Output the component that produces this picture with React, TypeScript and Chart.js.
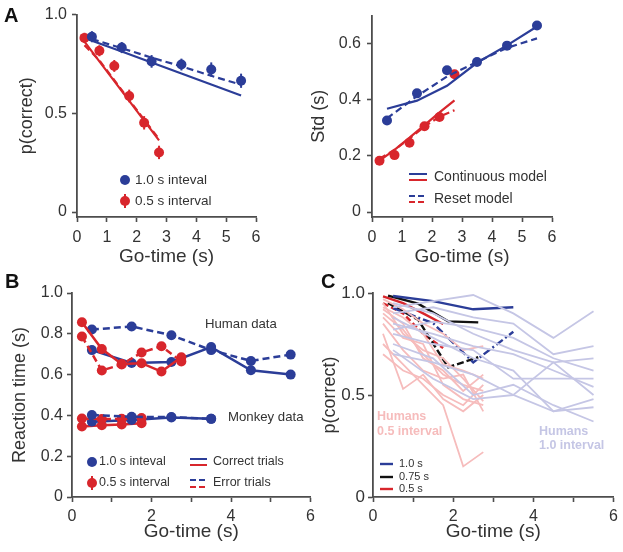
import React, { useEffect, useRef } from "react";
import { Chart, registerables } from "chart.js";
Chart.register(...registerables);

const BLUE = "#2b3d98";
const RED = "#d8262c";
const BLACK = "#111111";
const PINK = "#f6bcbc";
const LAV = "#c5c6e5";
const AXIS = "#4d4d4d";
const TXT = "#333333";
const FONT = "'Liberation Sans', Arial, Helvetica, sans-serif";

// ---------- Panel A (left): p(correct) ----------
const xLong = [0.5, 1.5, 2.5, 3.5, 4.5, 5.5];
const xShort = [0.25, 0.75, 1.25, 1.75, 2.25, 2.75];
const aBlueP = [0.888, 0.833, 0.763, 0.747, 0.722, 0.665];
const aRedP = [0.882, 0.817, 0.74, 0.588, 0.452, 0.302];
const aBlueErr = [0.028, 0.028, 0.032, 0.03, 0.036, 0.036];
const aRedErr = [0.026, 0.028, 0.03, 0.032, 0.034, 0.034];
const aBlueCont = [0.868, 0.813, 0.757, 0.702, 0.646, 0.59];
const aBlueReset = [0.876, 0.83, 0.782, 0.738, 0.69, 0.645];
const aRedCont = [0.863, 0.763, 0.663, 0.563, 0.463, 0.363];
const aRedReset = [0.845, 0.768, 0.668, 0.568, 0.468, 0.37];

// ---------- Panel A (right): Std ----------
const sBlue = [0.326, 0.423, 0.505, 0.535, 0.593, 0.665];
const sRed = [0.183, 0.203, 0.247, 0.306, 0.339, 0.491];
const sBlueCont = [0.368, 0.397, 0.45, 0.532, 0.594, 0.661];
const sBlueReset = [0.334, 0.413, 0.483, 0.535, 0.585, 0.619];
const sRedCont = [0.183, 0.222, 0.265, 0.31, 0.355, 0.398];
const sRedReset = [0.19, 0.222, 0.262, 0.305, 0.34, 0.363];

// ---------- Panel B: reaction time ----------
const hBlueCorrect = [0.72, 0.657, 0.662, 0.735, 0.621, 0.6];
const hBlueError = [0.821, 0.836, 0.793, 0.72, 0.667, 0.698];
const hRedCorrect = [0.857, 0.725, 0.652, 0.656, 0.615, 0.685];
const hRedError = [0.787, 0.62, 0.65, 0.708, 0.739, 0.664];
const xMonkeyLong = [0.5, 1.5, 2.5, 3.5];
const xMonkeyShort = [0.25, 0.75, 1.25, 1.75];
const mBlueCorrect = [0.369, 0.378, 0.39, 0.383];
const mBlueError = [0.402, 0.393, 0.392, 0.383];
const mRedCorrect = [0.346, 0.352, 0.355, 0.362];
const mRedError = [0.385, 0.382, 0.383, 0.387];

// ---------- Panel C: individual subjects + monkeys ----------
const hum10_1 = [0.93, 0.96, 0.99, 0.9, 0.78, 0.91];
const hum10_2 = [0.9, 0.93, 0.88, 0.85, 0.7, 0.74];
const hum10_3 = [0.82, 0.86, 0.83, 0.78, 0.68, 0.62];
const hum10_4 = [0.95, 0.9, 0.8, 0.72, 0.66, 0.68];
const hum10_5 = [0.8, 0.75, 0.72, 0.58, 0.58, 0.58];
const hum10_6 = [0.7, 0.66, 0.6, 0.5, 0.66, 0.5];
const hum10_7 = [0.88, 0.78, 0.68, 0.62, 0.42, 0.44];
const hum10_8 = [0.75, 0.68, 0.5, 0.55, 0.45, 0.37];
const hum10_9 = [0.85, 0.8, 0.74, 0.7, 0.62, 0.54];
const hum10_10 = [0.72, 0.58, 0.48, 0.5, 0.42, 0.48];
const hum05_1 = [0.97, 0.92, 0.85, 0.8, 0.72, 0.74];
const hum05_2 = [0.93, 0.88, 0.8, 0.65, 0.62, 0.58];
const hum05_3 = [0.9, 0.82, 0.7, 0.6, 0.55, 0.52];
const hum05_4 = [0.88, 0.78, 0.75, 0.55, 0.48, 0.45];
const hum05_5 = [0.85, 0.72, 0.62, 0.58, 0.6, 0.42];
const hum05_6 = [0.75, 0.65, 0.55, 0.45, 0.15, 0.22];
const hum05_7 = [0.7, 0.62, 0.58, 0.5, 0.45, 0.55];
const hum05_8 = [0.8, 0.53, 0.6, 0.48, 0.42, 0.5];
const hum05_9 = [0.92, 0.85, 0.68, 0.62, 0.52, 0.6];
const hum05_10 = [0.95, 0.8, 0.72, 0.68, 0.58, 0.47];
const humans10 = [hum10_1, hum10_2, hum10_3, hum10_4, hum10_5, hum10_6, hum10_7, hum10_8, hum10_9, hum10_10];
const humans05 = [hum05_1, hum05_2, hum05_3, hum05_4, hum05_5, hum05_6, hum05_7, hum05_8, hum05_9, hum05_10];

const xM10 = [0.5, 1.5, 2.5, 3.5];
const xM075 = [0.375, 1.125, 1.875, 2.625];
const xM05 = [0.25, 0.75, 1.25, 1.75];
const m10Correct = [0.985, 0.96, 0.92, 0.93];
const m10Error = [0.926, 0.852, 0.66, 0.81];
const m075Correct = [0.987, 0.948, 0.861, 0.856];
const m075Error = [0.951, 0.869, 0.636, 0.685];
const m05Correct = [0.984, 0.95, 0.9, 0.848];
const m05Error = [0.95, 0.9, 0.8, 0.73];

const xTicks = [0, 1, 2, 3, 4, 5, 6];
const yTicksA = [0, 0.5, 1];
const yTicksStd = [0, 0.2, 0.4, 0.6];
const yTicksRT = [0, 0.2, 0.4, 0.6, 0.8, 1.0];

// ---------- helpers ----------
const xy = (xs: number[], ys: number[]) => xs.map((x, i) => ({ x, y: ys[i] }));

function pts(xs: number[], ys: number[], color: string, r = 5) {
  return {
    data: xy(xs, ys), showLine: false, pointRadius: r, pointHoverRadius: r,
    pointBackgroundColor: color, pointBorderColor: color, pointBorderWidth: 0,
    borderColor: color, backgroundColor: color, clip: false,
  };
}
function ln(xs: number[], ys: number[], color: string, dash: number[] = [], w = 2.2) {
  return {
    data: xy(xs, ys), showLine: true, pointRadius: 0, pointHoverRadius: 0,
    borderColor: color, backgroundColor: color, borderWidth: w, borderDash: dash,
    fill: false, tension: 0, clip: false,
  };
}
function lnPts(xs: number[], ys: number[], color: string, dash: number[] = [], w = 2.5, r = 5) {
  return {
    data: xy(xs, ys), showLine: true, pointRadius: r, pointHoverRadius: r,
    pointBackgroundColor: color, pointBorderColor: color, pointBorderWidth: 0,
    borderColor: color, backgroundColor: color, borderWidth: w, borderDash: dash,
    fill: false, tension: 0, clip: false,
  };
}

function yFmt(v: number) {
  return v === 0 ? "0" : v.toFixed(1);
}

function xScale(opts: { height: number; labelEven?: boolean; titlePad: number; tickPad: number }) {
  return {
    type: "linear", min: 0, max: 6,
    afterBuildTicks: (s: any) => { s.ticks = xTicks.map((v) => ({ value: v })); },
    afterFit: (s: any) => { s.height = opts.height; },
    ticks: {
      color: TXT, font: { family: FONT, size: 16 }, padding: opts.tickPad, maxRotation: 0, autoSkip: false,
      callback: (v: any) => (opts.labelEven ? (v % 2 === 0 ? String(v) : "") : String(v)),
    },
    grid: { display: true, drawOnChartArea: false, drawTicks: true, tickLength: 5, tickWidth: 1.6, tickColor: AXIS, color: AXIS },
    border: { display: true, color: AXIS, width: 1.8 },
    title: { display: true, text: "Go-time (s)", color: TXT, font: { family: FONT, size: 19 }, padding: { top: 0, bottom: opts.titlePad } },
  };
}
function yScale(opts: { width: number; min: number; max: number; ticks: number[]; title: string; titlePad: number; tickPad: number; size?: number }) {
  return {
    type: "linear", min: opts.min, max: opts.max,
    afterBuildTicks: (s: any) => { s.ticks = opts.ticks.map((v) => ({ value: v })); },
    afterFit: (s: any) => { s.width = opts.width; },
    ticks: { color: TXT, font: { family: FONT, size: opts.size || 16 }, padding: opts.tickPad, autoSkip: false, callback: (v: any) => yFmt(v) },
    grid: { display: true, drawOnChartArea: false, drawTicks: true, tickLength: 5, tickWidth: 1.6, tickColor: AXIS, color: AXIS },
    border: { display: true, color: AXIS, width: 1.8 },
    title: { display: true, text: opts.title, color: TXT, font: { family: FONT, size: 18 }, padding: { top: opts.titlePad, bottom: 0 } },
  };
}

function baseOptions(pad: { top: number; right: number }, scales: any) {
  return {
    responsive: false, animation: false, events: [],
    layout: { padding: { top: pad.top, right: pad.right, left: 0, bottom: 0 } },
    plugins: { legend: { display: false }, tooltip: { enabled: false }, title: { display: false } },
    scales,
  };
}

function text(ctx: CanvasRenderingContext2D, s: string, x: number, y: number, size: number, color = TXT, align: CanvasTextAlign = "left", weight = "normal") {
  ctx.save();
  ctx.font = `${weight} ${size}px ${FONT}`;
  ctx.fillStyle = color;
  ctx.textAlign = align;
  ctx.textBaseline = "middle";
  ctx.fillText(s, x, y);
  ctx.restore();
}
function seg(ctx: CanvasRenderingContext2D, x1: number, y1: number, x2: number, y2: number, color: string, w = 2, dash: number[] = []) {
  ctx.save();
  ctx.strokeStyle = color;
  ctx.lineWidth = w;
  ctx.setLineDash(dash);
  ctx.beginPath();
  ctx.moveTo(x1, y1);
  ctx.lineTo(x2, y2);
  ctx.stroke();
  ctx.restore();
}
function dot(ctx: CanvasRenderingContext2D, x: number, y: number, r: number, color: string) {
  ctx.save();
  ctx.fillStyle = color;
  ctx.beginPath();
  ctx.arc(x, y, r, 0, Math.PI * 2);
  ctx.fill();
  ctx.restore();
}
function panelLabel(ctx: CanvasRenderingContext2D, s: string, x: number, y: number) {
  ctx.save();
  ctx.font = `bold 20px ${FONT}`;
  ctx.fillStyle = "#111";
  ctx.textAlign = "left";
  ctx.textBaseline = "alphabetic";
  ctx.fillText(s, x, y);
  ctx.restore();
}

function errorBars(chart: any, xs: number[], ys: number[], errs: number[], color: string) {
  const ctx = chart.ctx;
  const sx = chart.scales.x, sy = chart.scales.y;
  xs.forEach((x, i) => {
    const px = sx.getPixelForValue(x);
    seg(ctx, px, sy.getPixelForValue(ys[i] - errs[i]), px, sy.getPixelForValue(ys[i] + errs[i]), color, 2);
  });
}

// ---------- configs ----------
const configA = {
  type: "line",
  data: {
    datasets: [
      ln(xLong, aBlueCont, BLUE),
      ln(xLong, aBlueReset, BLUE, [7, 4]),
      ln(xShort, aRedCont, RED),
      ln(xShort, aRedReset, RED, [7, 4]),
      pts(xLong, aBlueP, BLUE),
      pts(xShort, aRedP, RED),
    ],
  },
  options: baseOptions({ top: 12, right: 44 }, {
    x: xScale({ height: 53, titlePad: 2, tickPad: 6 }),
    y: yScale({ width: 77, min: -0.025, max: 1.0, ticks: yTicksA, title: "p(correct)", titlePad: 16, tickPad: 5 }),
  }),
  plugins: [{
    id: "extraA",
    afterDatasetsDraw(chart: any) {
      errorBars(chart, xLong, aBlueP, aBlueErr, BLUE);
      errorBars(chart, xShort, aRedP, aRedErr, RED);
    },
    afterDraw(chart: any) {
      const ctx = chart.ctx;
      panelLabel(ctx, "A", 4, 22);
      dot(ctx, 125, 180, 5, BLUE);
      text(ctx, "1.0 s inteval", 135, 180, 13.5);
      seg(ctx, 125, 194, 125, 208, RED, 2);
      dot(ctx, 125, 201, 5, RED);
      text(ctx, "0.5 s interval", 135, 201, 13.5);
    },
  }],
};

const configStd = {
  type: "line",
  data: {
    datasets: [
      ln(xLong, sBlueCont, BLUE),
      ln(xLong, sBlueReset, BLUE, [7, 4]),
      ln(xShort, sRedCont, RED),
      ln(xShort, sRedReset, RED, [7, 4]),
      pts(xLong, sBlue, BLUE),
      pts(xShort, sRed, RED),
    ],
  },
  options: baseOptions({ top: 12, right: 71 }, {
    x: xScale({ height: 53, titlePad: 2, tickPad: 6 }),
    y: yScale({ width: 72, min: -0.0175, max: 0.7, ticks: yTicksStd, title: "Std (s)", titlePad: 8, tickPad: 6 }),
  }),
  plugins: [{
    id: "extraStd",
    afterDraw(chart: any) {
      const ctx = chart.ctx;
      seg(ctx, 109, 174, 127, 174, BLUE, 2);
      seg(ctx, 109, 180, 127, 180, RED, 2);
      text(ctx, "Continuous model", 134, 177, 14);
      seg(ctx, 109, 196, 127, 196, BLUE, 2, [6, 3]);
      seg(ctx, 109, 202, 127, 202, RED, 2, [6, 3]);
      text(ctx, "Reset model", 134, 199, 14);
    },
  }],
};

const configB = {
  type: "line",
  data: {
    datasets: [
      lnPts(xMonkeyLong, mBlueError, BLUE, [7, 4]),
      lnPts(xMonkeyShort, mRedError, RED, [7, 4]),
      lnPts(xMonkeyLong, mBlueCorrect, BLUE),
      lnPts(xMonkeyShort, mRedCorrect, RED),
      lnPts(xShort, hRedError, RED, [7, 4]),
      lnPts(xShort, hRedCorrect, RED),
      lnPts(xLong, hBlueError, BLUE, [7, 4]),
      lnPts(xLong, hBlueCorrect, BLUE),
    ],
  },
  options: baseOptions({ top: 23, right: 8 }, {
    x: xScale({ height: 55, labelEven: true, titlePad: 9, tickPad: 5 }),
    y: yScale({ width: 72, min: 0, max: 1, ticks: yTicksRT, title: "Reaction time (s)", titlePad: 9, tickPad: 4 }),
  }),
  plugins: [{
    id: "extraB",
    afterDraw(chart: any) {
      const ctx = chart.ctx;
      panelLabel(ctx, "B", 5, 18);
      text(ctx, "Human data", 205, 54, 13.2);
      text(ctx, "Monkey data", 228, 147, 13.2);
      dot(ctx, 92, 192, 5, BLUE);
      text(ctx, "1.0 s inteval", 99, 192, 12.5);
      seg(ctx, 92, 206, 92, 220, RED, 2);
      dot(ctx, 92, 213, 5, RED);
      text(ctx, "0.5 s interval", 99, 213, 12.5);
      seg(ctx, 190, 189, 207, 189, BLUE, 2);
      seg(ctx, 190, 195, 207, 195, RED, 2);
      text(ctx, "Correct trials", 213, 192, 12.5);
      seg(ctx, 190, 210, 207, 210, BLUE, 2, [6, 3]);
      seg(ctx, 190, 217, 207, 217, RED, 2, [6, 3]);
      text(ctx, "Error trials", 213, 213, 12.5);
    },
  }],
};

const configC = {
  type: "line",
  data: {
    datasets: [
      ...humans10.map((ys) => ln(xLong, ys, LAV, [], 1.8)),
      ...humans05.map((ys) => ln(xShort, ys, PINK, [], 1.8)),
      ln(xM10, m10Error, BLUE, [8, 3, 2, 3], 2.4),
      ln(xM075, m075Error, BLACK, [7, 3], 2.4),
      ln(xM05, m05Error, RED, [6, 3], 2.4),
      ln(xM10, m10Correct, BLUE, [], 2.4),
      ln(xM075, m075Correct, BLACK, [], 2.4),
      ln(xM05, m05Correct, RED, [], 2.4),
    ],
  },
  options: baseOptions({ top: 23, right: 9 }, {
    x: xScale({ height: 55, labelEven: true, titlePad: 9, tickPad: 5 }),
    y: yScale({ width: 63, min: 0, max: 1, ticks: yTicksA, title: "p(correct)", titlePad: 9, tickPad: 3, size: 17 }),
  }),
  plugins: [{
    id: "extraC",
    afterDraw(chart: any) {
      const ctx = chart.ctx;
      panelLabel(ctx, "C", 11, 18);
      text(ctx, "Humans", 67, 147, 12.5, PINK, "left", "bold");
      text(ctx, "0.5 interval", 67, 162, 12.5, PINK, "left", "bold");
      text(ctx, "Humans", 229, 162, 12.5, LAV, "left", "bold");
      text(ctx, "1.0 interval", 229, 176, 12.5, LAV, "left", "bold");
      seg(ctx, 70, 194, 83, 194, BLUE, 2.4);
      text(ctx, "1.0 s", 89, 194, 11);
      seg(ctx, 70, 207, 83, 207, BLACK, 2.4);
      text(ctx, "0.75 s", 89, 207, 11);
      seg(ctx, 70, 219, 83, 219, RED, 2.4);
      text(ctx, "0.5 s", 89, 219, 11);
    },
  }],
};

function ChartPanel(props: { left: number; top: number; width: number; height: number; config: any }) {
  const ref = useRef<HTMLCanvasElement>(null);
  useEffect(() => {
    const chart = new Chart(ref.current as HTMLCanvasElement, props.config);
    return () => chart.destroy();
  }, []);
  return (
    <div style={{ position: "absolute", left: props.left, top: props.top, width: props.width, height: props.height }}>
      <canvas ref={ref} width={props.width} height={props.height} style={{ width: props.width, height: props.height, display: "block" }} />
    </div>
  );
}

export default function App() {
  return (
    <div style={{ position: "absolute", left: 0, top: 0, width: 623, height: 552, background: "#ffffff", overflow: "hidden" }}>
      <ChartPanel left={0} top={0} width={300} height={270} config={configA} />
      <ChartPanel left={300} top={0} width={323} height={270} config={configStd} />
      <ChartPanel left={0} top={270} width={320} height={282} config={configB} />
      <ChartPanel left={310} top={270} width={313} height={282} config={configC} />
    </div>
  );
}
